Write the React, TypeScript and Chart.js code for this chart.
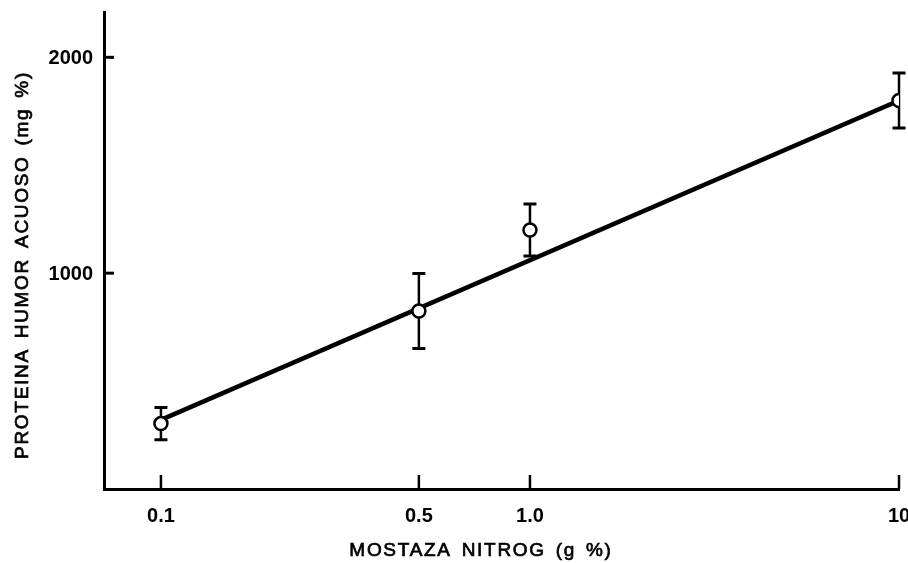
import React, { useEffect, useRef } from "react";
import { Chart, registerables } from "chart.js";

Chart.register(...registerables);

// ---- data ----
const doses = [0.1, 0.5, 1.0, 10];
const doseTickLabels = ["0.1", "0.5", "1.0", "10"];
const proteinMeans = [303, 825, 1200, 1800];
const proteinErrors = [75, 174, 120, 127];
const fitDoses = [0.1, 10];
const fitValues = [320, 1800];
const yTickValues = [1000, 2000];
const yTickLabels = ["1000", "2000"];
const xTitle = "MOSTAZA NITROG (g %)";
const yTitle = "PROTEINA HUMOR ACUOSO (mg %)";

const INK = "#000000";
const FONT = "'Liberation Sans', Arial, sans-serif";

const paperPlugin = {
  id: "paperPlugin",
  beforeDatasetsDraw(chart: any) {
    const { ctx } = chart;
    const xs = chart.scales.x;
    const ys = chart.scales.y;
    ctx.save();
    ctx.strokeStyle = INK;
    ctx.lineCap = "butt";
    doses.forEach((d, i) => {
      const x = xs.getPixelForValue(d);
      const yTop = ys.getPixelForValue(proteinMeans[i] + proteinErrors[i]);
      const yBot = ys.getPixelForValue(proteinMeans[i] - proteinErrors[i]);
      ctx.lineWidth = 2.5;
      ctx.beginPath();
      ctx.moveTo(x, yTop);
      ctx.lineTo(x, yBot);
      ctx.stroke();
      ctx.lineWidth = 3;
      ctx.beginPath();
      ctx.moveTo(x - 6.5, yTop);
      ctx.lineTo(x + 6.5, yTop);
      ctx.moveTo(x - 6.5, yBot);
      ctx.lineTo(x + 6.5, yBot);
      ctx.stroke();
    });
    ctx.restore();
  },
  afterDraw(chart: any) {
    const { ctx, chartArea } = chart;
    const xs = chart.scales.x;
    const ys = chart.scales.y;
    ctx.save();
    ctx.strokeStyle = INK;
    ctx.fillStyle = INK;
    // inward tick marks
    ctx.lineWidth = 3;
    yTickValues.forEach((v) => {
      const y = ys.getPixelForValue(v);
      ctx.beginPath();
      ctx.moveTo(chartArea.left, y);
      ctx.lineTo(chartArea.left + 10, y);
      ctx.stroke();
    });
    ctx.lineWidth = 2.5;
    doses.forEach((d) => {
      const x = xs.getPixelForValue(d);
      ctx.beginPath();
      ctx.moveTo(x, chartArea.bottom);
      ctx.lineTo(x, chartArea.bottom - 14);
      ctx.stroke();
    });
    // tick labels
    ctx.font = `bold 20px ${FONT}`;
    ctx.textAlign = "right";
    ctx.textBaseline = "middle";
    yTickValues.forEach((v, i) => {
      ctx.fillText(yTickLabels[i], chartArea.left - 11, ys.getPixelForValue(v) + 1);
    });
    ctx.textAlign = "center";
    doses.forEach((d, i) => {
      ctx.fillText(doseTickLabels[i], xs.getPixelForValue(d), chartArea.bottom + 27);
    });
    // axis titles
    ctx.font = `19px ${FONT}`;
    ctx.lineWidth = 0.7;
    (ctx as any).letterSpacing = "1.7px";
    (ctx as any).wordSpacing = "3px";
    ctx.fillText(xTitle, 481, chartArea.bottom + 62);
    ctx.strokeText(xTitle, 481, chartArea.bottom + 62);
    ctx.translate(23, 265);
    ctx.rotate(-Math.PI / 2);
    ctx.fillText(yTitle, 0, 0);
    ctx.strokeText(yTitle, 0, 0);
    ctx.restore();
  },
};

export default function App() {
  const canvasRef = useRef<HTMLCanvasElement | null>(null);

  useEffect(() => {
    if (!canvasRef.current) return;
    const chart = new Chart(canvasRef.current, {
      type: "scatter",
      data: {
        datasets: [
          {
            label: "Proteína",
            data: doses.map((d, i) => ({ x: d, y: proteinMeans[i] })),
            pointRadius: 6.5,
            pointBorderWidth: 2.5,
            pointBackgroundColor: "#ffffff",
            pointBorderColor: INK,
            showLine: false,
          },
          {
            label: "Regresión",
            data: fitDoses.map((d, i) => ({ x: d, y: fitValues[i] })),
            showLine: true,
            borderColor: INK,
            borderWidth: 4.5,
            pointRadius: 0,
            fill: false,
          },
        ],
      },
      options: {
        animation: false,
        responsive: true,
        maintainAspectRatio: false,
        layout: { padding: { left: 96, right: 8, top: 12, bottom: 66 } },
        plugins: {
          legend: { display: false },
          tooltip: { enabled: false },
          title: { display: false },
        },
        scales: {
          x: {
            type: "logarithmic",
            min: 0.0701,
            max: 10,
            grid: { display: false },
            ticks: { display: false },
            border: { display: true, color: INK, width: 3 },
          },
          y: {
            type: "linear",
            min: 0,
            max: 2210,
            grid: { display: false },
            ticks: { display: false },
            border: { display: true, color: INK, width: 3 },
          },
        },
      },
      plugins: [paperPlugin],
    });
    return () => chart.destroy();
  }, []);

  return (
    <div style={{ position: "absolute", left: 0, top: 0, width: 908, height: 563, background: "#fff" }}>
      <canvas ref={canvasRef} />
    </div>
  );
}
